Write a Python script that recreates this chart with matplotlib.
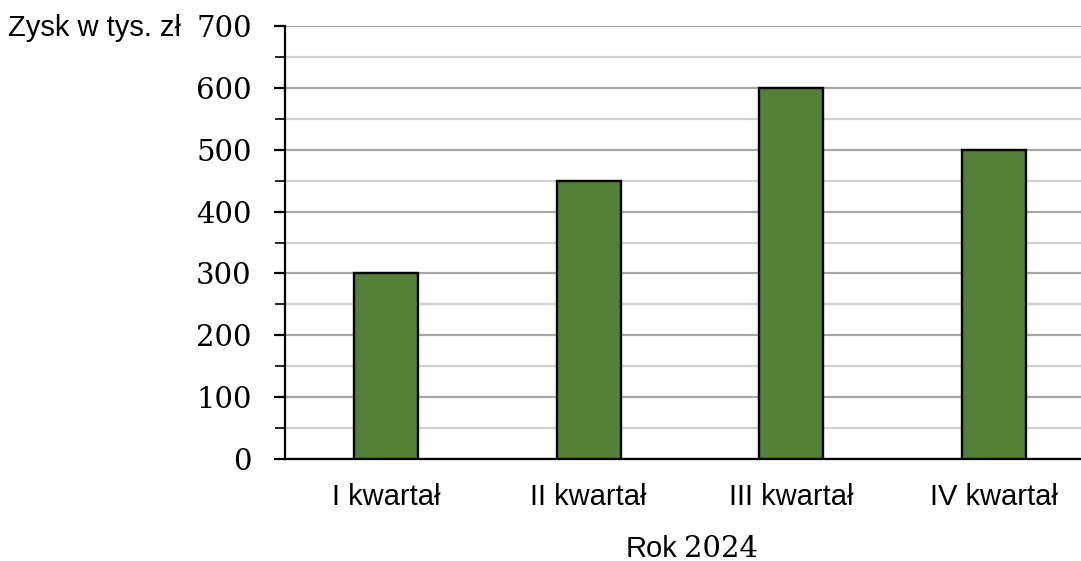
import matplotlib
matplotlib.use("Agg")
import matplotlib.pyplot as plt
from matplotlib.ticker import MultipleLocator

categories = ["I kwartał", "II kwartał", "III kwartał", "IV kwartał"]
values = [300, 450, 600, 500]
ylabel = "Zysk w tys. zł"
xlabel_word = "Rok"
xlabel_year = "2024"

W, H = 1081, 561
fig = plt.figure(figsize=(W / 100, H / 100), dpi=100)
ax = fig.add_axes([285 / W, (H - 459) / H, 810 / W, 433 / H])

x = list(range(len(categories)))
ax.bar(x, values, width=0.316, color="#538135", edgecolor="black", linewidth=1.7, zorder=3)
ax.set_xlim(-0.5, 3.5)
ax.set_ylim(0, 700)
ax.yaxis.set_major_locator(MultipleLocator(100))
ax.yaxis.set_minor_locator(MultipleLocator(50))
ax.grid(axis="y", which="major", color="#a6a6a6", linewidth=1.6, zorder=0)
ax.grid(axis="y", which="minor", color="#d0d0d0", linewidth=1.6, zorder=0)
ax.set_axisbelow(True)

for s in ["top", "right"]:
    ax.spines[s].set_visible(False)
ax.spines["left"].set_linewidth(1.6)
ax.spines["bottom"].set_linewidth(1.6)

ax.set_xticks(x)
ax.set_xticklabels(categories, fontsize=21, family="Liberation Sans")
ax.tick_params(axis="x", length=0, pad=17)
ax.tick_params(axis="y", which="major", length=8, width=1.6, pad=16, labelsize=21)
ax.tick_params(axis="y", which="minor", length=7, width=1.2)
for lab in ax.get_yticklabels():
    lab.set_family("DejaVu Serif")

fig.text(8 / W, 1 - 36 / H, ylabel, fontsize=21, family="Liberation Sans", ha="left", va="baseline")
fig.text(677 / W, 1 - 557 / H, xlabel_word, fontsize=21, family="Liberation Sans", ha="right", va="baseline")
fig.text(684 / W, 1 - 557 / H, xlabel_year, fontsize=21, family="DejaVu Serif", ha="left", va="baseline")

fig.savefig("out.png", dpi=100)
